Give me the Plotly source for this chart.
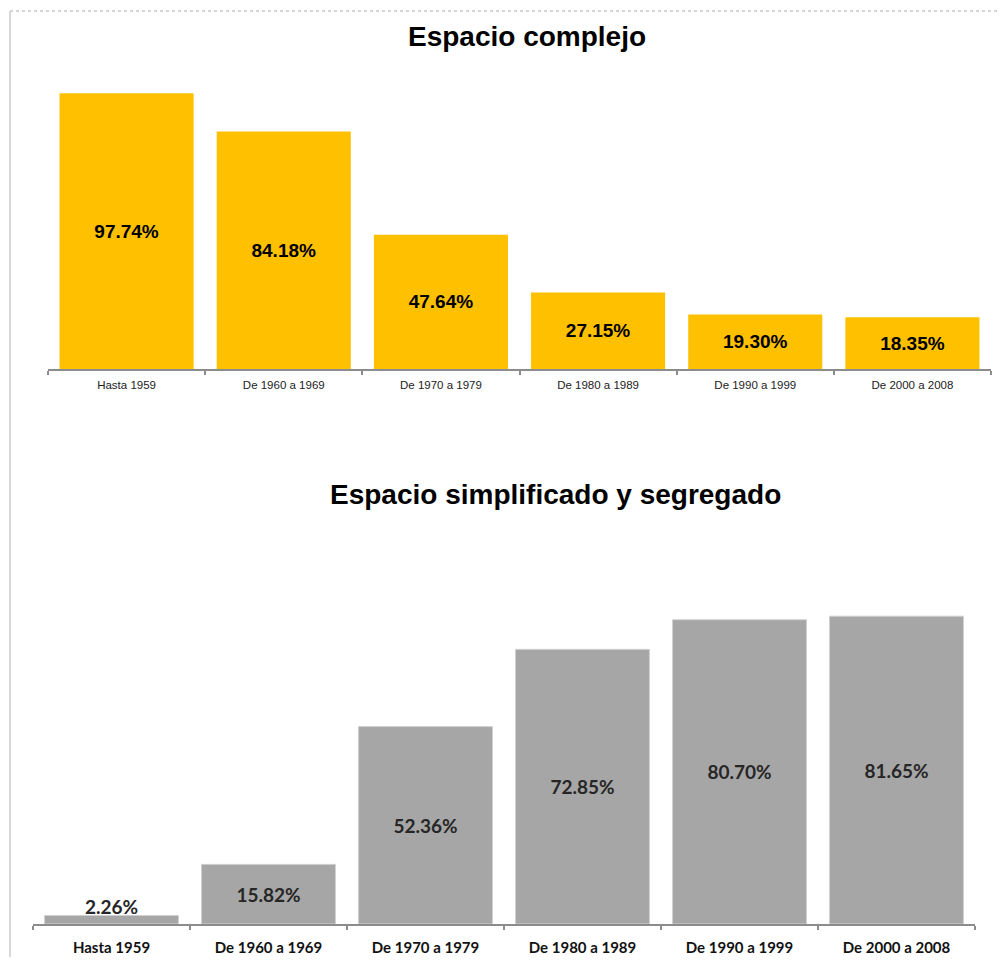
import plotly.graph_objects as go

categories = ["Hasta 1959", "De 1960 a 1969", "De 1970 a 1979",
              "De 1980 a 1989", "De 1990 a 1999", "De 2000 a 2008"]
complejo = [97.74, 84.18, 47.64, 27.15, 19.30, 18.35]
simplificado = [2.26, 15.82, 52.36, 72.85, 80.70, 81.65]

# page body has an 8px margin; figure sized to fit inside the window
OFF = 8
W, H = 992, 949

def px_x(v):
    return (v - OFF) / W

def px_y(v):
    return 1 - (v - OFF) / H

fig = go.Figure()

fig.add_trace(go.Bar(
    x=categories, y=complejo, xaxis="x", yaxis="y",
    marker=dict(color="#FFC000", line=dict(width=0)),
    text=[f"{v:.2f}%" for v in complejo],
    textposition="inside", insidetextanchor="middle",
    constraintext="none",
    textfont=dict(family="Liberation Sans, Arial", size=19, color="#000000", weight="bold"),
    hoverinfo="skip", showlegend=False,
))

simp_text = [f"{v:.2f}%" for v in simplificado]
fig.add_trace(go.Bar(
    x=categories, y=simplificado, xaxis="x2", yaxis="y2",
    marker=dict(color="#A6A6A6", line=dict(width=1, color="#D0D0D0")),
    text=[""] + simp_text[1:],
    textposition="inside", insidetextanchor="middle",
    constraintext="none", cliponaxis=False,
    textfont=dict(family="Lato", size=19, color="#262626", weight="bold"),
    hoverinfo="skip", showlegend=False,
))

axis_common = dict(
    showgrid=False, zeroline=False, showline=True,
    linecolor="#8C8C8C", linewidth=2,
    ticks="outside", tickson="boundaries", ticklen=4,
    tickcolor="#8C8C8C", tickwidth=1.5,
)

fig.update_layout(
    width=W, height=H,
    margin=dict(l=0, r=0, t=0, b=0),
    paper_bgcolor="white", plot_bgcolor="white",
    bargap=0.147,
    xaxis=dict(domain=[px_x(48), px_x(991)], anchor="y",
               tickfont=dict(family="Liberation Sans, Arial", size=11.5, color="#222222"),
               ticklabelstandoff=4, **axis_common),
    yaxis=dict(domain=[px_y(369), px_y(87)], range=[0, 100], anchor="x",
               visible=False),
    xaxis2=dict(domain=[px_x(33), px_x(975)], anchor="y2",
                tickfont=dict(family="Lato", size=15, color="#111111", weight="bold"),
                ticklabelstandoff=9, **axis_common),
    yaxis2=dict(domain=[px_y(924), px_y(547)], range=[0, 100], anchor="x2",
                visible=False),
    annotations=[
        dict(text="<b>Espacio complejo</b>", x=px_x(527), y=px_y(37),
             xref="paper", yref="paper", showarrow=False,
             xanchor="center", yanchor="middle",
             font=dict(family="Liberation Sans, Arial", size=28, color="#000000")),
        dict(text="<b>Espacio simplificado y segregado</b>", x=px_x(555), y=px_y(495),
             xref="paper", yref="paper", showarrow=False,
             xanchor="center", yanchor="middle",
             font=dict(family="Liberation Sans, Arial", size=28, color="#000000")),
        dict(text=f"<b>{simp_text[0]}</b>", x=categories[0], y=simplificado[0],
             xref="x2", yref="y2", showarrow=False,
             xanchor="center", yanchor="bottom", yshift=-5,
             font=dict(family="Lato", size=19, color="#262626")),
    ],
    shapes=[
        dict(type="line", xref="paper", yref="paper",
             x0=px_x(10), x1=1, y0=px_y(11), y1=px_y(11),
             line=dict(color="#C8C8C8", width=1.5, dash="dot")),
        dict(type="line", xref="paper", yref="paper",
             x0=px_x(10), x1=px_x(10), y0=px_y(11), y1=0,
             line=dict(color="#D9D9D9", width=2)),
    ],
)

fig.write_html("out.html")
